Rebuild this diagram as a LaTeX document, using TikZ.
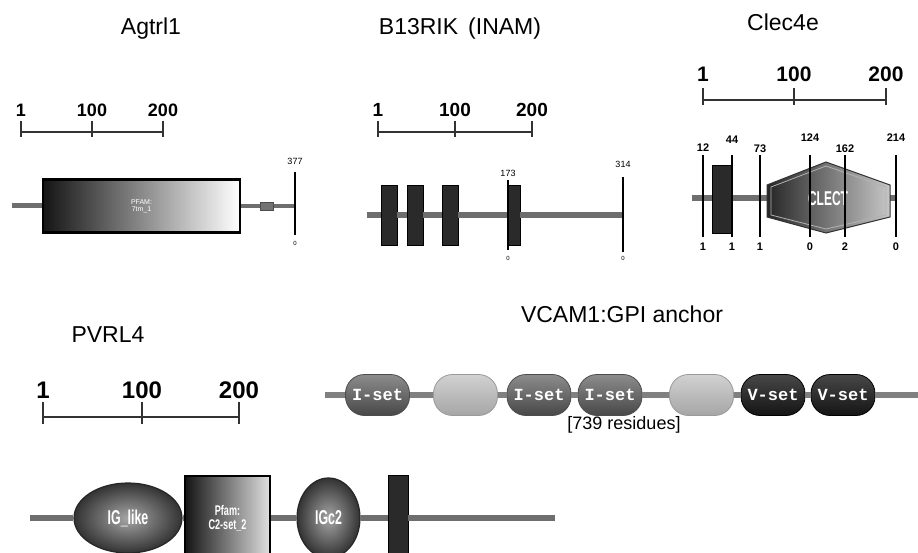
\documentclass[tikz,border=0pt]{standalone}
\usepackage{fontspec}
\setmainfont{Liberation Sans}
\newfontfamily\domfont{Liberation Mono}
\usepackage{graphicx}
\usepackage{tikz}
\usetikzlibrary{positioning,calc,shapes.geometric,shapes.misc}
\definecolor{ChainGray}{HTML}{6E6E6E}
\definecolor{BarDark}{HTML}{2A2A2A}
\newcommand{\fsz}[1]{\fontsize{#1}{#1}\selectfont}
\newcommand{\narrow}[2][.62]{\scalebox{#1}[1]{#2}}

\begin{document}
\begin{tikzpicture}[x=1pt,y=-1pt,
 title/.style={font=\fsz{23},inner sep=0pt,anchor=base},
 ruler/.style={draw=black!80,line width=1.2pt},
 rulerlab/.style={font=\bfseries\fsz{#1},inner sep=0pt,anchor=base},
 chain/.style={draw=ChainGray,line width=6pt},
 siteline/.style={draw=black,line width=1.2pt},
 sitelab/.style={font=\fsz{#1},inner sep=0pt},sitelab/.default=9,
 clsite/.style={font=\bfseries\fsz{11},inner sep=0pt},
 tmbar/.style={draw=black,line width=.8pt,fill=BarDark,inner sep=0pt,minimum width=#1},
 blob/.style={ellipse,draw=black!85,line width=1.2pt,inner color=black!35,outer color=black!80,inner sep=0pt,font=\bfseries\fsz{20},text=white},
 dom/.style={rectangle,rounded corners=19pt,minimum width=64pt,minimum height=41pt,inner sep=0pt,font=\domfont\bfseries\fsz{17},text=white,line width=.8pt},
 iset/.style={dom,top color=black!45,bottom color=black!72,draw=black!70},
 blankdom/.style={dom,top color=black!18,bottom color=black!35,draw=black!40},
 vset/.style={dom,top color=black!72,bottom color=black!92,draw=black}]
\path[use as bounding box] (0,0) rectangle (918,553);
\clip (0,0) rectangle (918,553);
% Agtrl1
\node[title] (agtrl) at (151,35) {Agtrl1};
\draw[ruler] (21,132)--(163,132);
\foreach \x/\t in {21/1,92/100,163/200}{\draw[ruler] (\x,121)--(\x,137);\node[rulerlab=18] (ag\t) at (\x,117) {\t};}
\coordinate (agN) at (12,206);\coordinate (agC) at (295,206);
\node[draw=black,line width=2.2pt,left color=black!92,middle color=black!70,right color=white,minimum width=197pt,minimum height=53pt,inner sep=0pt,font=\fsz{7},text=white,align=center] (agbox) at (141.5,206) {PFAM:\\7tm\_1};
\node[draw=black!70,fill=black!55,minimum width=13pt,minimum height=8pt,inner sep=0pt] (agtm) at (267,206) {};
\draw[chain,line width=5pt] (agN)--(agbox);\draw[chain,line width=4pt] (agbox)--(agtm);\draw[chain,line width=4pt] (agtm)--(agC);
\draw[siteline] (295,172)--(295,235);
\node[sitelab] (ag377) at (295,161) {377};\node[sitelab=6] (agzero) at (295,243) {0};
% B13RIK
\node[title] (b13rik) at (460,35) {B13RIK\hspace{10pt}(INAM)};
\draw[ruler] (378,132)--(532,132);
\foreach \x/\t in {378/1,455/100,532/200}{\draw[ruler] (\x,121)--(\x,137);\node[rulerlab=19] (bk\t) at (\x,117) {\t};}
\coordinate (bkN) at (367,215);\coordinate (bkC) at (623,215);
\node[tmbar=16pt,minimum height=60pt] (bkbar1) at (389,215) {};
\node[tmbar=16pt,minimum height=60pt] (bkbar2) at (415,215) {};
\node[tmbar=16pt,minimum height=60pt] (bkbar3) at (450,215) {};
\node[tmbar=12pt,minimum height=60pt] (bkbar4) at (514,215) {};
\draw[chain] (bkN)--(bkbar1);
\foreach \a/\b in {1/2,2/3,3/4}\draw[chain] (bkbar\a)--(bkbar\b);
\draw[chain] (bkbar4)--(bkC);
\draw[siteline] (508,180)--(508,250);\draw[siteline] (623,177)--(623,252);
\node[sitelab] (bk173) at (508,173) {173};\node[sitelab] (bk314) at (623,164) {314};
\node[sitelab=6] (bkzeroA) at (508,258) {0};\node[sitelab=6] (bkzeroB) at (623,258) {0};
% Clec4e
\node[title] (clec) at (783,31) {Clec4e};
\draw[ruler] (703,100)--(886,100);
\foreach \x/\t in {703/1,794/100,886/200}{\draw[ruler] (\x,88)--(\x,105);\node[rulerlab=21] (cl\t) at (\x,82) {\t};}
\coordinate (clN) at (692,198);\coordinate (clC) at (897,198);
\draw[chain] (clN)--(clC);
\node[tmbar=19pt,minimum height=68pt] (clbar) at (721.5,199) {};
\shadedraw[left color=black!85,right color=black!22,draw=black!80,line width=1pt] (767,185)--(826,162)--(890,185)--(890,217)--(826,233)--(767,217)--cycle;
\draw[black!30,line width=.8pt] (771,187)--(826,166)--(886,187)--(886,215)--(826,229)--(771,215)--cycle;
\node[font=\bfseries\fsz{20},text=white,inner sep=0pt] (clect) at (828,199) {\narrow[.6]{CLECT}};
\foreach \x/\n/\ny/\b in {703/12/148/1,732/44/140/1,760/73/149/1,810/124/138/0,845/162/149/2,896/214/138/0}{\draw[siteline] (\x,155)--(\x,237);\node[clsite] (cltop\n) at (\x,\ny) {\n};\node[clsite] (clbot\n) at (\x,247) {\b};}
% PVRL4
\node[title] (pvrl) at (108,342) {PVRL4};
\draw[ruler] (43,417)--(239,417);
\foreach \x/\t in {43/1,142/100,239/200}{\draw[ruler] (\x,402)--(\x,424);\node[rulerlab=24] (pv\t) at (\x,398) {\t};}
\coordinate (pvN) at (30,518);\coordinate (pvC) at (555,518);
\node[blob,minimum width=108pt,minimum height=70pt] (iglike) at (128,518) {\narrow{IG\_like}};
\node[draw=black,line width=2pt,left color=black!92,right color=black!12,minimum width=85pt,minimum height=85pt,inner sep=0pt,font=\bfseries\fsz{14},text=white,align=center] (c2set) at (227.5,518) {\narrow[.65]{Pfam:}\\\narrow[.65]{C2-set\_2}};
\node[blob,minimum width=63pt,minimum height=80pt] (igc2) at (328.5,518) {\narrow{IGc2}};
\node[tmbar=20pt,minimum height=85pt] (pvtm) at (398,518) {};
\draw[chain] (pvN)--(iglike);\draw[chain] (iglike)--(c2set);\draw[chain] (c2set)--(igc2);\draw[chain] (igc2)--(pvtm);\draw[chain] (pvtm)--(pvC);
% VCAM1
\node[title] (vcam) at (622,323) {VCAM1:GPI anchor};
\coordinate (vcN) at (325,395);\coordinate (vcC) at (918,395);
\node[iset] (vd1) at (377.5,395) {I-set};
\node[blankdom] (vd2) at (465.5,395) {};
\node[iset] (vd3) at (539,395) {I-set};
\node[iset] (vd4) at (610,395) {I-set};
\node[blankdom] (vd5) at (701.5,395) {};
\node[vset] (vd6) at (773,395) {V-set};
\node[vset] (vd7) at (843,395) {V-set};
\draw[chain,draw=black!50] (vcN)--(vd1);
\foreach \a/\b in {1/2,2/3,3/4,4/5,5/6,6/7}\draw[chain,draw=black!50] (vd\a)--(vd\b);
\draw[chain,draw=black!50] (vd7)--(vcC);
\node[font=\fsz{18},inner sep=0pt] (vclen) at (624,425) {[739 residues]};
\end{tikzpicture}
\end{document}
